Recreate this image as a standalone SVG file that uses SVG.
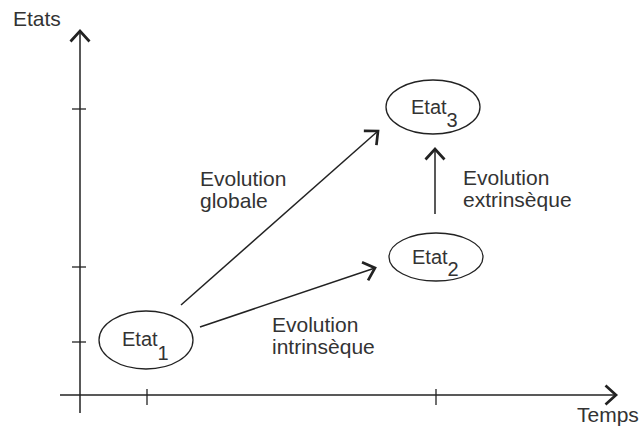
<svg xmlns="http://www.w3.org/2000/svg" width="641" height="432" viewBox="0 0 641 432">
<style>
text{font-family:"Liberation Sans",Arial,sans-serif;font-size:21px;fill:#333}
.lbl{font-size:20px}
.ax{stroke:#222;stroke-width:1.5;fill:none}
.tk{stroke:#222;stroke-width:1.3;fill:none}
.node{stroke:#222;stroke-width:1.3;fill:#fff}
.arr{stroke:#222;stroke-width:1.5;fill:none;marker-end:url(#head)}
</style>
<defs>
<marker id="head" markerUnits="userSpaceOnUse" markerWidth="26" markerHeight="26" viewBox="-15 -13 19 26" refX="0" refY="0" orient="auto">
<path d="M-10.5,-9.5 L0,0 L-10.5,9.5" fill="none" stroke="#222" stroke-width="2.7" stroke-linejoin="miter"/>
</marker>
</defs>
<g id="axes">
<line class="ax" x1="80" y1="413" x2="80" y2="31" marker-end="url(#head)"/>
<line class="ax" x1="60" y1="395" x2="616" y2="395" marker-end="url(#head)"/>
<line class="tk" x1="72" y1="109" x2="86" y2="109"/>
<line class="tk" x1="72" y1="267" x2="86" y2="267"/>
<line class="tk" x1="72" y1="342" x2="86" y2="342"/>
<line class="tk" x1="147" y1="389" x2="147" y2="405"/>
<line class="tk" x1="436" y1="389" x2="436" y2="405"/>
<text x="13" y="26">Etats</text>
<text x="577" y="422">Temps</text>
</g>
<g id="connectors">
<line class="arr" x1="181" y1="305" x2="378" y2="131"/>
<line class="arr" x1="200" y1="327" x2="375" y2="268"/>
<line class="arr" x1="435" y1="214" x2="435" y2="149"/>
<text x="200" y="186">Evolution</text>
<text x="200" y="208">globale</text>
<text x="463" y="185">Evolution</text>
<text x="463" y="207">extrinsèque</text>
<text x="272" y="332">Evolution</text>
<text x="272" y="354">intrinsèque</text>
</g>
<g id="etat1">
<ellipse class="node" cx="146" cy="340" rx="47" ry="29"/>
<text class="lbl" x="122" y="346">Etat<tspan dy="14">1</tspan></text>
</g>
<g id="etat2">
<ellipse class="node" cx="436" cy="257" rx="47" ry="24"/>
<text class="lbl" x="412" y="264">Etat<tspan dy="12">2</tspan></text>
</g>
<g id="etat3">
<ellipse class="node" cx="433" cy="107" rx="47" ry="27"/>
<text class="lbl" x="411" y="114">Etat<tspan dy="13">3</tspan></text>
</g>
</svg>
